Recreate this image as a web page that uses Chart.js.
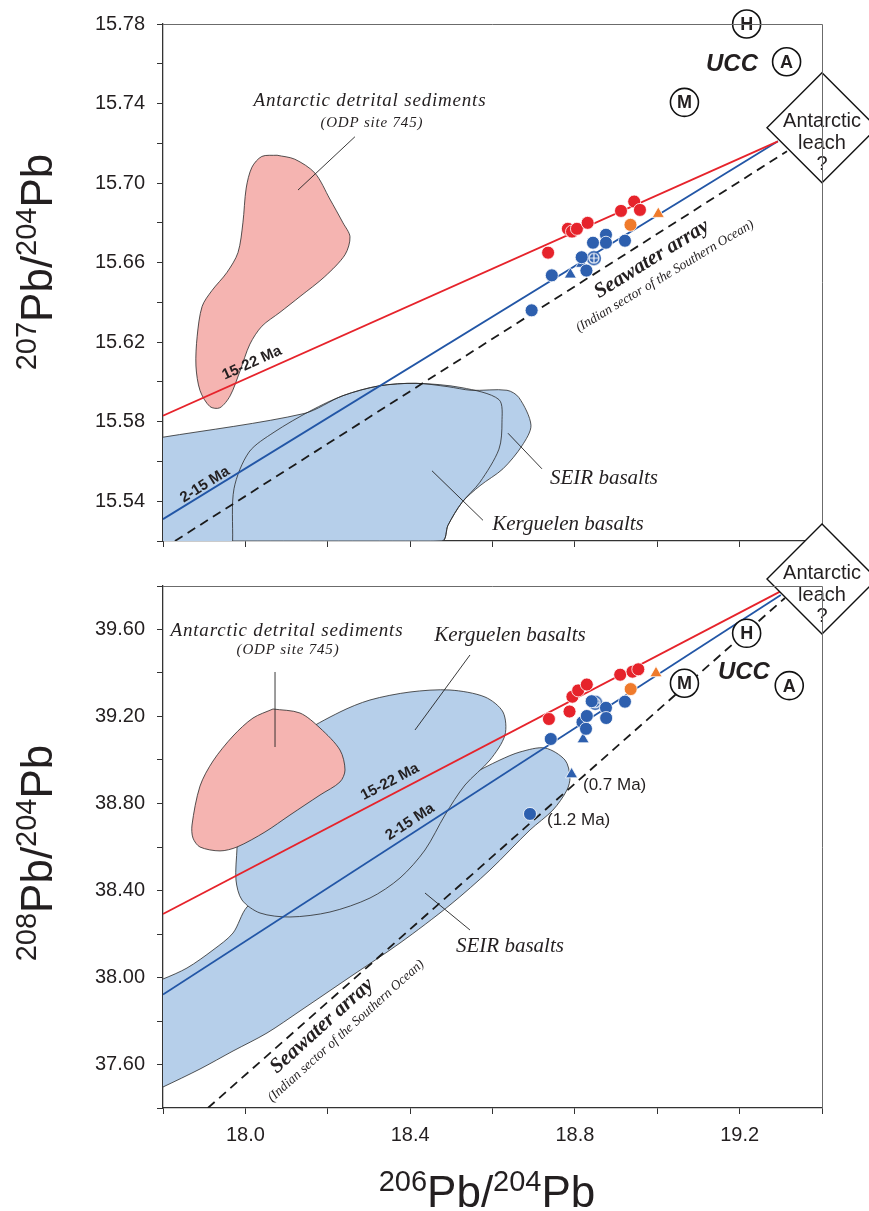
<!DOCTYPE html>
<html>
<head>
<meta charset="utf-8">
<script src="https://cdn.jsdelivr.net/npm/chart.js@4.4.1/dist/chart.umd.min.js"></script>
<style>
  html, body { margin: 0; padding: 0; background: #fff; }
  #wrap { position: relative; width: 869px; height: 1211px; overflow: hidden; }
  #topChart { position: absolute; left: 0; top: 0; }
  #botChart { position: absolute; left: 0; top: 500px; }
</style>
</head>
<body>
<div id="wrap">
  <canvas id="topChart" width="869" height="565"></canvas>
  <canvas id="botChart" width="869" height="711"></canvas>
</div>
<script>
// ---- tick labels ----
const xTickLabels = [18.0, 18.4, 18.8, 19.2];
const topYTickLabels = [15.54, 15.58, 15.62, 15.66, 15.70, 15.74, 15.78];
const botYTickLabels = [37.60, 38.00, 38.40, 38.80, 39.20, 39.60];

// ---- top panel: 206Pb/204Pb vs 207Pb/204Pb ----
const topRed = [[18.735, 15.665], [18.783, 15.677], [18.793, 15.6756], [18.805, 15.677],
  [18.831, 15.680], [18.912, 15.686], [18.944, 15.6907], [18.958, 15.6865]];
const topBlue = [[18.695, 15.636], [18.744, 15.6536], [18.8165, 15.6627], [18.828, 15.656],
  [18.844, 15.670], [18.8755, 15.674], [18.8755, 15.670], [18.9216, 15.671]];
const topBlueTri = [[18.789, 15.654], [18.8165, 15.6594]];
const topCross = [[18.846, 15.6622]];
const topOrange = [[18.935, 15.679]];
const topOrangeTri = [[19.0025, 15.6845]];
const topRes = [[19.217, 15.78], [19.314, 15.761], [19.066, 15.7406]];
const resLetters = ['H', 'A', 'M'];
const topLeach = [[19.4, 15.7278]];
const topLine1522 = [[17.8, 15.583], [19.293, 15.721]];
const topLine215 = [[17.8, 15.531], [19.293, 15.721]];
const topSeawater = [[17.829, 15.52], [19.315, 15.716]];
const topSediments = [[18.077, 15.714], [18.120, 15.712], [18.169, 15.705], [18.205, 15.692],
  [18.237, 15.680], [18.254, 15.673], [18.242, 15.664], [18.193, 15.653], [18.133, 15.643],
  [18.084, 15.635], [18.040, 15.628], [18.011, 15.619], [17.987, 15.6055], [17.963, 15.593],
  [17.938, 15.587], [17.914, 15.5876], [17.890, 15.5956], [17.880, 15.608], [17.883, 15.623],
  [17.895, 15.638], [17.919, 15.646], [17.955, 15.655], [17.982, 15.665], [17.994, 15.680],
  [18.002, 15.6975], [18.016, 15.708], [18.040, 15.7134]];
const topKerguelen = [[17.79, 15.5722], [17.8, 15.5722], [18.1423, 15.5841], [18.237, 15.5931],
  [18.3244, 15.5980], [18.4142, 15.5993], [18.5259, 15.5971], [18.6157, 15.5911], [18.623, 15.5797],
  [18.6157, 15.5662], [18.5696, 15.5496], [18.5259, 15.5394], [18.4919, 15.5279], [18.4774, 15.52],
  [17.79, 15.52]];
const topSEIR = [[17.969, 15.52], [17.9724, 15.5463], [18.0088, 15.5647], [18.0695, 15.5747],
  [18.1593, 15.5856], [18.237, 15.5931], [18.3244, 15.5980], [18.4142, 15.5993], [18.4919, 15.5976],
  [18.5478, 15.5958], [18.6352, 15.5958], [18.6643, 15.5921], [18.6934, 15.5782], [18.6716, 15.5679],
  [18.6254, 15.5563], [18.5696, 15.5478], [18.5259, 15.5394], [18.4919, 15.5279], [18.4774, 15.52]];

// ---- bottom panel: 206Pb/204Pb vs 208Pb/204Pb ----
const botRed = [[18.737, 39.1885], [18.787, 39.223], [18.794, 39.291], [18.808, 39.320],
  [18.829, 39.347], [18.910, 39.392], [18.940, 39.406], [18.954, 39.417]];
const botBlue = [[18.691, 38.752], [18.7415, 39.0966], [18.8185, 39.174], [18.827, 39.1434],
  [18.829, 39.2023], [18.8408, 39.2703], [18.8755, 39.240], [18.876, 39.193], [18.9216, 39.268]];
const botBlueTri = [[18.820, 39.095], [18.792, 38.934]];
const botCross = [[18.8495, 39.263]];
const botOrange = [[18.9355, 39.326]];
const botOrangeTri = [[18.997, 39.399]];
const botRes = [[19.217, 39.5825], [19.3205, 39.342], [19.066, 39.353]];
const botLeach = [[19.4, 39.832]];
const botLine1522 = [[17.8, 38.292], [19.298, 39.774]];
const botLine215 = [[17.8, 37.922], [19.30, 39.759]];
const botSeawater = [[17.909, 37.4], [19.31, 39.745]];
const botSediments = [[18.067, 39.2345], [18.1326, 39.216], [18.1812, 39.147], [18.2297, 39.046],
  [18.2419, 38.954], [18.2297, 38.899], [18.1812, 38.839], [18.1083, 38.747], [18.0476, 38.669],
  [17.9797, 38.600], [17.9384, 38.582], [17.8898, 38.600], [17.8728, 38.641], [17.8704, 38.701],
  [17.8898, 38.880], [17.9214, 38.9954], [17.970, 39.1103], [18.0185, 39.193]];
const botKerguelen = [[17.9797, 38.5954], [17.9772, 38.4483], [17.9918, 38.3563], [18.0355, 38.2966],
  [18.1083, 38.2782], [18.2054, 38.3011], [18.3026, 38.3655], [18.3754, 38.4575], [18.4361, 38.5862],
  [18.4846, 38.747], [18.5332, 38.885], [18.5939, 39.0], [18.6303, 39.115], [18.6254, 39.2207],
  [18.5817, 39.2897], [18.4968, 39.3218], [18.3997, 39.3126], [18.3026, 39.2759], [18.2297, 39.2207],
  [18.1326, 39.115], [18.0598, 38.977], [18.0112, 38.8161], [17.9869, 38.6782]];
const botSEIR = [[17.79, 37.99], [17.8, 37.993], [17.8583, 38.0437], [17.9214, 38.1264],
  [17.970, 38.2046], [18.0039, 38.3241], [18.1083, 38.4943], [18.254, 38.6552], [18.4239, 38.8161],
  [18.5453, 38.931], [18.6182, 39.0], [18.6667, 39.0368], [18.7274, 39.0552], [18.776, 39.0],
  [18.7881, 38.9218], [18.7808, 38.862], [18.7468, 38.770], [18.691, 38.678], [18.5939, 38.4943],
  [18.4968, 38.3333], [18.3754, 38.1586], [18.254, 38.0023], [18.1326, 37.846], [18.0525, 37.7448],
  [17.970, 37.662], [17.8898, 37.5793], [17.8, 37.4966], [17.79, 37.49]];

// ---- styling ----
const SANS = "'Liberation Sans', Arial, Helvetica, sans-serif";
const NARROW = "'Liberation Sans Narrow', 'Liberation Sans', Arial, sans-serif";
const SERIF = "'Liberation Serif', 'Times New Roman', serif";
const INK = '#231f20';
const RED = '#e6232b';
const BLUE = '#2256a6';
const DOT_BLUE = '#2d5fae';
const ORANGE = '#ef7a2b';
const PINK = '#f5b4b1';
const ICE = '#b6cfea';

function toXY(arr) { return arr.map(p => ({ x: p[0], y: p[1] })); }

function lineSet(arr, color, dash, order) {
  return { data: toXY(arr), showLine: true, borderColor: color, borderWidth: 1.8,
    borderDash: dash || [], pointRadius: 0, order: order };
}
function fieldSet(arr, color, order) {
  return { data: toXY(arr.concat([arr[0]])), showLine: true, fill: 'shape', tension: 0.3,
    backgroundColor: color, borderColor: '#2a2a2a', borderWidth: 0.8, pointRadius: 0, order: order };
}
function markSet(arr, color, style, r) {
  return { data: toXY(arr), pointStyle: style, pointRadius: r, backgroundColor: color,
    borderColor: '#fff', borderWidth: 0.8, order: 2 };
}

// blue circle with white cross
const crossDot = document.createElement('canvas');
crossDot.width = 16; crossDot.height = 16;
(function () {
  const c = crossDot.getContext('2d');
  c.fillStyle = DOT_BLUE;
  c.beginPath(); c.arc(8, 8, 7.2, 0, Math.PI * 2); c.fill();
  c.strokeStyle = '#fff'; c.lineWidth = 1.2;
  c.beginPath(); c.arc(8, 8, 5, 0, Math.PI * 2); c.stroke();
  c.beginPath(); c.moveTo(3, 8); c.lineTo(13, 8); c.moveTo(8, 3); c.lineTo(8, 13); c.stroke();
})();

function pickLabel(list, digits) {
  return function (value) {
    return list.some(v => Math.abs(v - value) < 1e-6) ? value.toFixed(digits) : '';
  };
}

function drawIso(ctx, parts, big, small, rise) {
  let w = 0;
  parts.forEach(p => { ctx.font = p[1] ? small : big; w += ctx.measureText(p[0]).width; });
  let x = -w / 2;
  parts.forEach(p => {
    ctx.font = p[1] ? small : big;
    ctx.fillText(p[0], x, p[1] ? -rise : 0);
    x += ctx.measureText(p[0]).width;
  });
}

const notesPlugin = {
  id: 'notes',
  afterDatasetsDraw(chart, args, opts) {
    const ctx = chart.ctx, sx = chart.scales.x, sy = chart.scales.y;
    ctx.save();
    ctx.strokeStyle = '#222';
    ctx.lineWidth = 0.9;
    (opts.pointers || []).forEach(p => {
      ctx.beginPath();
      ctx.moveTo(sx.getPixelForValue(p[0]), sy.getPixelForValue(p[1]));
      ctx.lineTo(sx.getPixelForValue(p[2]), sy.getPixelForValue(p[3]));
      ctx.stroke();
    });
    ctx.fillStyle = INK;
    (opts.labels || []).forEach(t => {
      ctx.save();
      ctx.translate(sx.getPixelForValue(t.x), sy.getPixelForValue(t.y));
      ctx.rotate((t.angle || 0) * Math.PI / 180);
      ctx.font = t.font;
      ctx.letterSpacing = (t.spacing || 0) + 'px';
      ctx.textAlign = t.align || 'center';
      ctx.textBaseline = 'middle';
      ctx.fillText(t.text, 0, 0);
      ctx.restore();
    });
    chart.data.datasets.forEach((ds, i) => {
      const meta = chart.getDatasetMeta(i);
      if (ds.letters) {
        ctx.font = 'bold 18px ' + SANS;
        ctx.textAlign = 'center';
        ctx.textBaseline = 'middle';
        meta.data.forEach((el, j) => ctx.fillText(ds.letters[j], el.x, el.y + 1));
      }
      if (ds.caption) {
        ctx.font = '20px ' + SANS;
        ctx.textAlign = 'center';
        ctx.textBaseline = 'middle';
        const el = meta.data[0];
        ctx.fillText(ds.caption[0], el.x, el.y - 6);
        ctx.fillText(ds.caption[1], el.x, el.y + 16);
        ctx.fillText(ds.caption[2], el.x, el.y + 37);
      }
    });
    ctx.restore();
  },
  afterDraw(chart, args, opts) {
    const ctx = chart.ctx, a = chart.chartArea;
    ctx.save();
    ctx.strokeStyle = '#6b6b6b';
    ctx.lineWidth = 1;
    ctx.beginPath();
    ctx.moveTo(a.left, a.top + 0.5);
    ctx.lineTo(a.right + 0.5, a.top + 0.5);
    ctx.lineTo(a.right + 0.5, a.bottom);
    ctx.stroke();
    ctx.fillStyle = INK;
    ctx.textAlign = 'left';
    ctx.textBaseline = 'alphabetic';
    const big = '44px ' + SANS, small = '29px ' + SANS;
    if (opts.yTitle) {
      ctx.save();
      ctx.translate(opts.yTitle.x, opts.yTitle.y);
      ctx.rotate(-Math.PI / 2);
      drawIso(ctx, opts.yTitle.parts, big, small, 16);
      ctx.restore();
    }
    if (opts.xTitle) {
      ctx.save();
      ctx.translate(opts.xTitle.x, opts.xTitle.y);
      drawIso(ctx, opts.xTitle.parts, big, small, 16);
      ctx.restore();
    }
    ctx.restore();
  }
};

function buildChart(id, p) {
  return new Chart(document.getElementById(id), {
    type: 'scatter',
    data: { datasets: p.datasets },
    plugins: [notesPlugin],
    options: {
      responsive: false,
      animation: false,
      devicePixelRatio: 1,
      events: [],
      layout: { autoPadding: false, padding: { left: 0, right: 47, top: p.padTop, bottom: 0 } },
      plugins: {
        legend: { display: false },
        tooltip: { enabled: false },
        filler: { drawTime: p.fillTime },
        notes: p.notes
      },
      scales: {
        x: {
          type: 'linear', min: 17.8, max: 19.4,
          afterFit: s => { s.height = p.xHeight; },
          grid: { drawOnChartArea: false, drawTicks: true, tickLength: 6, color: '#333', lineWidth: 1 },
          border: { color: '#333', width: 1.3 },
          ticks: {
            stepSize: 0.2, padding: 9, color: INK,
            font: { family: NARROW, size: 20 },
            callback: p.showX ? pickLabel(xTickLabels, 1) : () => ''
          }
        },
        y: {
          type: 'linear', min: p.yMin, max: p.yMax,
          afterFit: s => { s.width = 163; },
          grid: { drawOnChartArea: false, drawTicks: true, tickLength: 6, color: '#333', lineWidth: 1 },
          border: { color: '#333', width: 1.3 },
          ticks: {
            stepSize: p.yStep, padding: 12, color: INK,
            font: { family: SANS, size: 20 },
            callback: pickLabel(p.yLabels, 2)
          }
        }
      }
    }
  });
}

const ringStyle = { pointStyle: 'circle', pointRadius: 14, backgroundColor: '#fff',
  borderColor: '#111', borderWidth: 1.6, clip: false, order: 0 };
const leachStyle = { pointStyle: 'rectRot', pointRadius: 55, backgroundColor: '#fff',
  borderColor: '#111', borderWidth: 1.4, clip: false, order: 1,
  caption: ['Antarctic', 'leach', '?'] };

// top panel
buildChart('topChart', {
  padTop: 24, xHeight: 18, showX: false, fillTime: 'beforeDatasetsDraw',
  yMin: 15.52, yMax: 15.78, yStep: 0.02, yLabels: topYTickLabels,
  datasets: [
    Object.assign({ data: toXY(topRes), letters: resLetters }, ringStyle),
    Object.assign({ data: toXY(topLeach) }, leachStyle),
    markSet(topRed, RED, 'circle', 6.5),
    markSet(topBlue, DOT_BLUE, 'circle', 6.5),
    markSet(topBlueTri, DOT_BLUE, 'triangle', 7),
    markSet(topCross, DOT_BLUE, crossDot, 7),
    markSet(topOrange, ORANGE, 'circle', 6.5),
    markSet(topOrangeTri, ORANGE, 'triangle', 7),
    lineSet(topLine1522, RED, null, 5),
    lineSet(topLine215, BLUE, null, 5),
    lineSet(topSeawater, '#1a1a1a', [9, 6], 5),
    fieldSet(topSediments, PINK, 10),
    fieldSet(topSEIR, ICE, 11),
    fieldSet(topKerguelen, ICE, 12)
  ],
  notes: {
    labels: [
      { text: 'Antarctic detrital sediments', x: 18.3025, y: 15.7412, font: 'italic 19px ' + SERIF, spacing: 0.8 },
      { text: '(ODP site 745)', x: 18.307, y: 15.7303, font: 'italic 15px ' + SERIF, spacing: 0.8 },
      { text: 'Seawater array', x: 18.987, y: 15.6617, font: 'bold italic 21px ' + SERIF, angle: -32 },
      { text: '(Indian sector of the Southern Ocean)', x: 19.0187, y: 15.6532, font: 'italic 13.5px ' + SERIF, angle: -31 },
      { text: 'SEIR basalts', x: 18.8707, y: 15.5513, font: 'italic 21px ' + SERIF },
      { text: 'Kerguelen basalts', x: 18.7833, y: 15.5285, font: 'italic 21px ' + SERIF },
      { text: '15-22 Ma', x: 18.016, y: 15.6095, font: 'bold 15px ' + SANS, angle: -24.3 },
      { text: '2-15 Ma', x: 17.902, y: 15.5483, font: 'bold 15px ' + SANS, angle: -32 },
      { text: 'UCC', x: 19.1814, y: 15.7596, font: 'bold italic 24px ' + SANS }
    ],
    pointers: [
      [18.266, 15.7233, 18.1278, 15.6965],
      [18.720, 15.5563, 18.6376, 15.5742],
      [18.5769, 15.5304, 18.4531, 15.5553]
    ],
    yTitle: { x: 52, y: 262, parts: [['207', true], ['Pb/', false], ['204', true], ['Pb', false]] }
  }
});

// bottom panel
buildChart('botChart', {
  padTop: 86, xHeight: 103, showX: true, fillTime: 'beforeDatasetDraw',
  yMin: 37.4, yMax: 39.8, yStep: 0.2, yLabels: botYTickLabels,
  datasets: [
    Object.assign({ data: toXY(botRes), letters: resLetters }, ringStyle),
    Object.assign({ data: toXY(botLeach) }, leachStyle),
    markSet(botRed, RED, 'circle', 6.5),
    markSet(botBlue, DOT_BLUE, 'circle', 6.5),
    markSet(botBlueTri, DOT_BLUE, 'triangle', 7),
    markSet(botCross, DOT_BLUE, crossDot, 7),
    markSet(botOrange, ORANGE, 'circle', 6.5),
    markSet(botOrangeTri, ORANGE, 'triangle', 7),
    lineSet(botLine1522, RED, null, 5),
    lineSet(botLine215, BLUE, null, 5),
    lineSet(botSeawater, '#1a1a1a', [9, 6], 5),
    fieldSet(botSediments, PINK, 10),
    fieldSet(botKerguelen, ICE, 11),
    fieldSet(botSEIR, ICE, 12)
  ],
  notes: {
    labels: [
      { text: 'Antarctic detrital sediments', x: 18.101, y: 39.593, font: 'italic 19px ' + SERIF, spacing: 0.8 },
      { text: '(ODP site 745)', x: 18.1035, y: 39.5057, font: 'italic 15px ' + SERIF, spacing: 0.8 },
      { text: 'Kerguelen basalts', x: 18.6424, y: 39.5747, font: 'italic 21px ' + SERIF },
      { text: 'SEIR basalts', x: 18.6424, y: 38.1448, font: 'italic 21px ' + SERIF },
      { text: '15-22 Ma', x: 18.351, y: 38.899, font: 'bold 15px ' + SANS, angle: -27.6 },
      { text: '2-15 Ma', x: 18.3997, y: 38.715, font: 'bold 15px ' + SANS, angle: -33 },
      { text: 'Seawater array', x: 18.186, y: 37.777, font: 'bold italic 21px ' + SERIF, angle: -42 },
      { text: '(Indian sector of the Southern Ocean)', x: 18.2443, y: 37.754, font: 'italic 13.5px ' + SERIF, angle: -42 },
      { text: 'UCC', x: 19.2105, y: 39.4046, font: 'bold italic 24px ' + SANS },
      { text: '(0.7 Ma)', x: 18.8197, y: 38.885, font: '17px ' + SANS, align: 'left' },
      { text: '(1.2 Ma)', x: 18.7323, y: 38.724, font: '17px ' + SANS, align: 'left' }
    ],
    pointers: [
      [18.072, 39.4046, 18.072, 39.0598],
      [18.5453, 39.4828, 18.4118, 39.138],
      [18.5453, 38.2184, 18.4361, 38.3885]
    ],
    yTitle: { x: 52, y: 353, parts: [['208', true], ['Pb/', false], ['204', true], ['Pb', false]] },
    xTitle: { x: 487, y: 707, parts: [['206', true], ['Pb/', false], ['204', true], ['Pb', false]] }
  }
});
</script>
</body>
</html>
